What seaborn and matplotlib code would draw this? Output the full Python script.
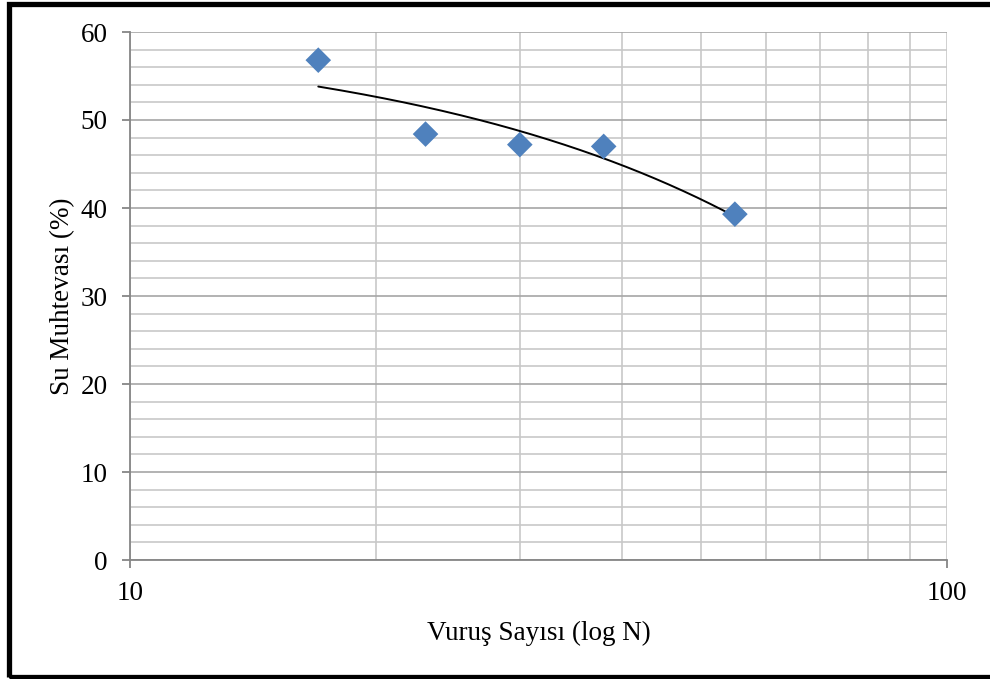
import numpy as np
import pandas as pd
import matplotlib
matplotlib.use("Agg")
import matplotlib.pyplot as plt
import matplotlib.patches as mpatches
from matplotlib.ticker import FixedLocator, NullFormatter
import seaborn as sns

# Data
blows = [17, 23, 30, 38, 55]            # Vuruş Sayısı (N)
water = [56.8, 48.4, 47.2, 47.0, 39.3]  # Su Muhtevası (%)
x_ticks = [10, 100]
x_tick_labels = ["10", "100"]
y_ticks = [0, 10, 20, 30, 40, 50, 60]

sns.set_theme(style="white")
plt.rcParams['font.family'] = ['Liberation Serif', 'DejaVu Serif']

df = pd.DataFrame({"N": blows, "w": water})

# Linear trendline (Excel style) fitted on data
coef = np.polyfit(df["N"], df["w"], 1)
xt = np.linspace(min(blows), max(blows), 200)
trend = pd.DataFrame({"N": xt, "w": np.polyval(coef, xt)})

fig = plt.figure(figsize=(9.9, 6.79), dpi=100)
ax = fig.add_axes([130/990, 1-560/679, (947-130)/990, (560-32)/679])

ax.set_xscale("log")
ax.set_xlim(10, 100)
ax.set_ylim(0, 60)

# grid
ax.xaxis.set_major_locator(FixedLocator(x_ticks))
ax.xaxis.set_minor_locator(FixedLocator([20, 30, 40, 50, 60, 70, 80, 90]))
ax.xaxis.set_minor_formatter(NullFormatter())
ax.set_xticklabels(x_tick_labels)
ax.yaxis.set_major_locator(FixedLocator(y_ticks))
ax.yaxis.set_minor_locator(FixedLocator(np.arange(0, 61, 2)))
ax.grid(which="major", axis="y", color="#A6A6A6", lw=1.2)
ax.grid(which="minor", axis="y", color="#C8C8C8", lw=1.2)
ax.grid(which="minor", axis="x", color="#C8C8C8", lw=1.2)
ax.grid(which="major", axis="x", color="#C8C8C8", lw=1.2)
ax.set_axisbelow(True)

sns.lineplot(data=trend, x="N", y="w", ax=ax, color="black", lw=1.4, zorder=3)
sns.scatterplot(data=df, x="N", y="w", ax=ax, marker="D", s=170,
                color="#4F81BD", edgecolor="none", zorder=4)

for s in ["top", "right"]:
    ax.spines[s].set_visible(False)
for s in ["left", "bottom"]:
    ax.spines[s].set_color("#868686")
    ax.spines[s].set_linewidth(1.3)

ax.tick_params(axis="y", which="major", direction="out", length=6, width=1.3,
               color="#868686", left=True, labelsize=19.5, pad=10, labelcolor="black")
ax.tick_params(axis="y", which="minor", left=False)
ax.tick_params(axis="x", which="major", direction="out", length=6, width=1.3,
               color="#868686", bottom=True, labelsize=19.5, pad=9, labelcolor="black")
ax.tick_params(axis="x", which="minor", bottom=False)

ax.set_xlabel("Vuruş Sayısı (log N)", fontsize=19.5, labelpad=11, color="black")
ax.set_ylabel("Su Muhtevası (%)", fontsize=19.5, labelpad=4, color="black")
if ax.get_legend():
    ax.get_legend().remove()

# outer border
rect = mpatches.Rectangle((8.5/990, 2/679), 1.2, 1 - 6/679, transform=fig.transFigure,
                          fill=False, edgecolor="black", lw=3.8, clip_on=False)
fig.patches.append(rect)

fig.savefig("out.png", dpi=100, facecolor="white")
